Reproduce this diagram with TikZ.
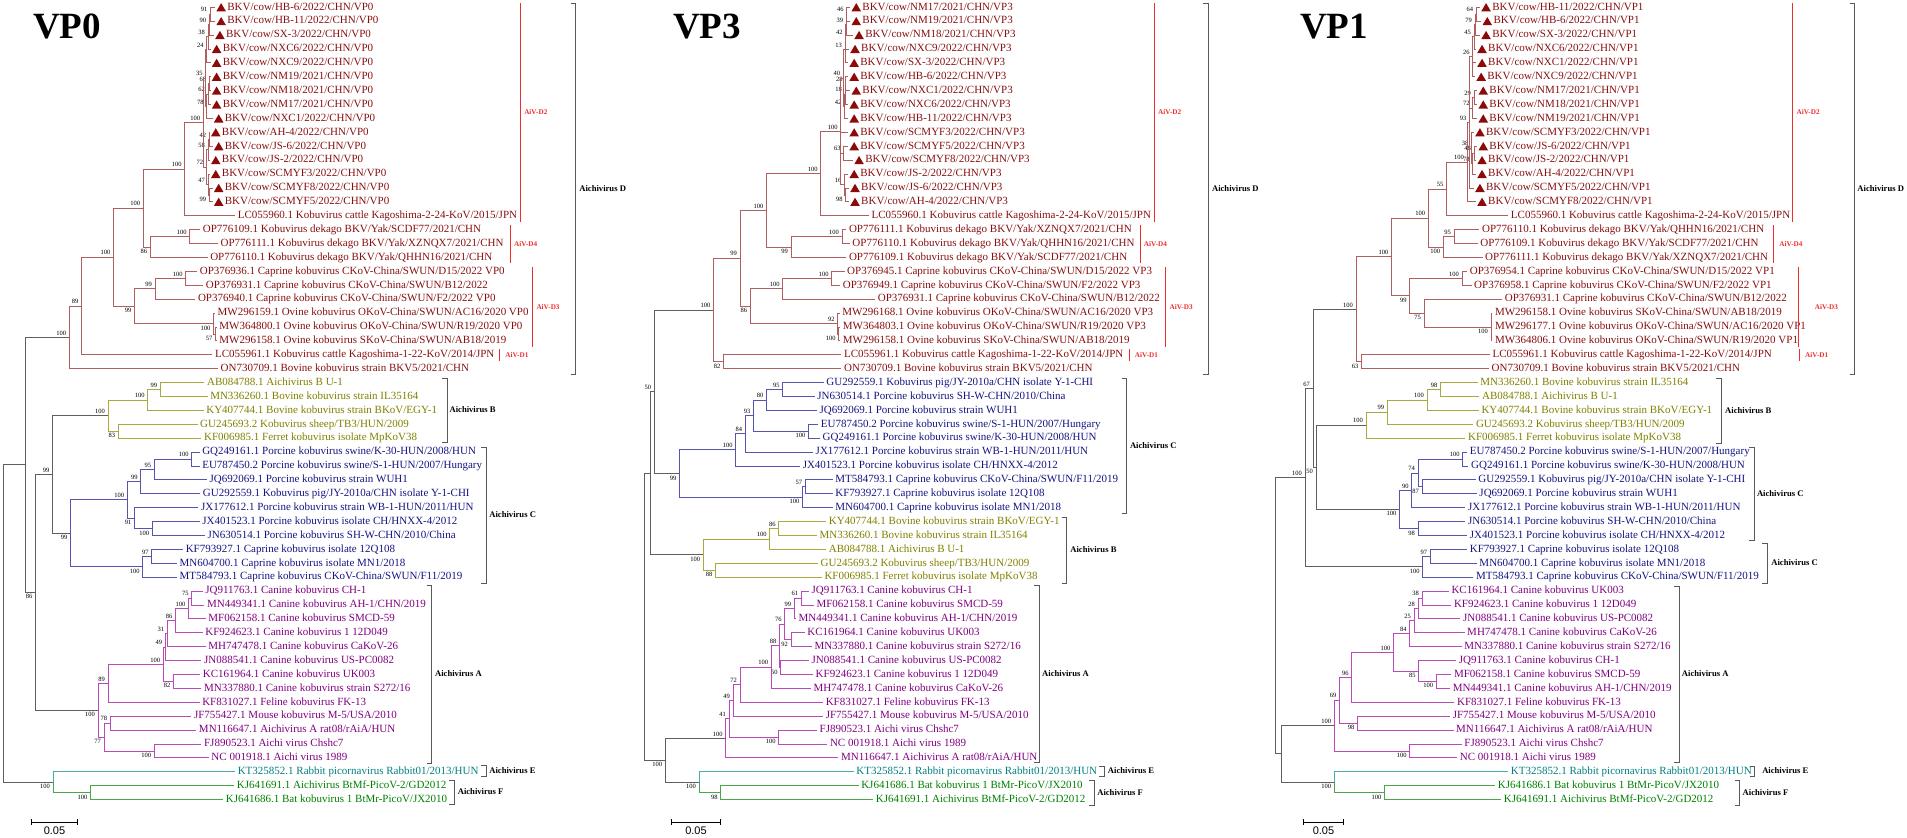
\documentclass[tikz,border=0pt]{standalone}
\usepackage{fontspec}
\setmainfont{Liberation Serif}
\newfontfamily\barfont{Liberation Sans}
\usetikzlibrary{calc}

\definecolor{dtxt}{RGB}{135,15,15}
\definecolor{dln}{RGB}{175,95,95}
\definecolor{btxt}{RGB}{128,128,0}
\definecolor{bln}{RGB}{170,170,60}
\definecolor{ctxt}{RGB}{20,20,130}
\definecolor{cln}{RGB}{85,85,175}
\definecolor{atxt}{RGB}{128,0,128}
\definecolor{aln}{RGB}{185,75,185}
\definecolor{etxt}{RGB}{0,128,128}
\definecolor{eln}{RGB}{70,170,170}
\definecolor{ftxt}{RGB}{0,128,0}
\definecolor{fln}{RGB}{75,165,75}
\definecolor{gln}{RGB}{95,95,95}
\definecolor{tri}{RGB}{140,10,10}
\definecolor{subred}{RGB}{240,45,45}

\newcommand\xu{1.2245}% horizontal unit, in pt

\tikzset{
  gbr/.style={line width=0.9pt, gln},
  dbr/.style={line width=0.9pt, dln},
  bbr/.style={line width=0.9pt, bln},
  cbr/.style={line width=0.9pt, cln},
  abr/.style={line width=0.9pt, aln},
  ebr/.style={line width=0.9pt, eln},
  fbr/.style={line width=0.9pt, fln},
  lf/.style={anchor=west, inner sep=0pt, font=\fontsize{11}{11}\selectfont, text height=7.8pt, text depth=2.4pt},
  dl/.style={text=dtxt}, bl/.style={text=btxt}, cl/.style={text=ctxt},
  al/.style={text=atxt}, el/.style={text=etxt}, fl/.style={text=ftxt},
  boot/.style={anchor=south east, inner sep=0pt, font=\fontsize{6.5}{6.5}\selectfont, xshift=-3pt, yshift=2pt},
  bootb/.style={anchor=north east, inner sep=0pt, font=\fontsize{6.5}{6.5}\selectfont, xshift=-3pt, yshift=-2pt},
  grp/.style={draw=black!65, line width=0.8pt},
  sub/.style={draw=subred, line width=0.9pt},
  grplab/.style={anchor=west, inner sep=0pt, font=\fontsize{8.6}{8.6}\bfseries\selectfont},
  sublab/.style={anchor=west, inner sep=0pt, text=subred, font=\fontsize{7.2}{7.2}\bfseries\selectfont},
  sbar/.style={draw=black, line width=0.9pt},
  sblab/.style={inner sep=0pt, font=\barfont\fontsize{11}{11}\selectfont},
  title/.style={anchor=north west, inner sep=0pt, font=\fontsize{37}{37}\bfseries\selectfont}
}

% leaf: panel, row, tip x, colour style, text
\newcommand\leaf[5]{%
  \coordinate (#1#2) at (#3,{7.3+13.9*#2});
  \node[lf,#4] (#1#2t) at ([xshift=2.5pt]#1#2) {#5};}
% cattle strains of this study, with the marker
\newcommand\bkv[4]{%
  \coordinate (#1#2) at (#3,{7.3+13.9*#2});
  \fill[tri] ([xshift=1.2pt,yshift=-4pt]#1#2) -- ++(9.6pt,0) -- ++(-4.8pt,8.2pt) -- cycle;
  \node[lf,dl] (#1#2t) at ([xshift=12pt]#1#2) {#4};}
% clade: [line style] name, x, children, bootstrap (_ = below)
\newcommand\clade[5][dbr]{%
  \gdef\cfirst{}%
  \foreach \ch in {#4}{\ifx\cfirst\empty\xdef\cfirst{\ch}\fi\xdef\clast{\ch}}%
  \path let \p1=(\cfirst), \p2=(\clast) in coordinate (#2) at ({#3*\xu pt},{0.5*(\y1+\y2)});
  \foreach \ch in {#4}{\draw[#1] (#2) |- (\ch);}
  \def\cname{#2}%
  \if\relax\detokenize{#5}\relax\else\bootnode#5\relax\fi}
\def\bootnode#1#2\relax{%
  \ifx_#1\node[bootb] at (\cname) {#2};\else\node[boot] at (\cname) {#1#2};\fi}
% brackets: [label gap] name, x, y1, y2, text
\newcommand\grpbr[6][3]{%
  \draw[grp] ({#3-4},#4) -- (#3,#4) -- (#3,#5) -- ({#3-4},#5);
  \node[grplab] (#2) at ({#3+#1},{(#4+#5)/2}) {#6};}
\newcommand\subgrp[6][3]{%
  \draw[sub] (#3,#4) -- (#3,#5);
  \node[sublab] (#2) at ({#3+#1},{(#4+#5)/2}) {#6};}
\newcommand\scalebar[3]{%
  \draw[sbar] (#2,822.3) -- (#3,822.3);
  \draw[sbar] (#2,819.3) -- (#2,825.3) (#3,819.3) -- (#3,825.3);
  \node[sblab] (#1) at ({(#2+#3)/2},831) {0.05};}

\begin{document}
\begin{tikzpicture}[x=\xu pt,y=-1pt]
\path[use as bounding box] (0pt,0pt) rectangle (1907pt,-838pt);

%% ---------------- VP0 ----------------
\begin{scope}
\node[title] (at) at (27,14) {VP0};
\bkv{a}{0}{175.7}{BKV/cow/HB-6/2022/CHN/VP0}
\bkv{a}{1}{175.7}{BKV/cow/HB-11/2022/CHN/VP0}
\bkv{a}{2}{174.7}{BKV/cow/SX-3/2022/CHN/VP0}
\bkv{a}{3}{172}{BKV/cow/NXC6/2022/CHN/VP0}
\bkv{a}{4}{172}{BKV/cow/NXC9/2022/CHN/VP0}
\bkv{a}{5}{172}{BKV/cow/NM19/2021/CHN/VP0}
\bkv{a}{6}{172}{BKV/cow/NM18/2021/CHN/VP0}
\bkv{a}{7}{172}{BKV/cow/NM17/2021/CHN/VP0}
\bkv{a}{8}{173.7}{BKV/cow/NXC1/2022/CHN/VP0}
\bkv{a}{9}{171.3}{BKV/cow/AH-4/2022/CHN/VP0}
\bkv{a}{10}{173.7}{BKV/cow/JS-6/2022/CHN/VP0}
\bkv{a}{11}{171.3}{BKV/cow/JS-2/2022/CHN/VP0}
\bkv{a}{12}{171.3}{BKV/cow/SCMYF3/2022/CHN/VP0}
\bkv{a}{13}{173.7}{BKV/cow/SCMYF8/2022/CHN/VP0}
\bkv{a}{14}{173.7}{BKV/cow/SCMYF5/2022/CHN/VP0}
\leaf{a}{15}{192}{dl}{LC055960.1 Kobuvirus cattle Kagoshima-2-24-KoV/2015/JPN}
\leaf{a}{16}{163.5}{dl}{OP776109.1 Kobuvirus dekago BKV/Yak/SCDF77/2021/CHN}
\leaf{a}{17}{178}{dl}{OP776111.1 Kobuvirus dekago BKV/Yak/XZNQX7/2021/CHN}
\leaf{a}{18}{169.5}{dl}{OP776110.1 Kobuvirus dekago BKV/Yak/QHHN16/2021/CHN}
\leaf{a}{19}{161}{dl}{OP376936.1 Caprine kobuvirus CKoV-China/SWUN/D15/2022 VP0}
\leaf{a}{20}{166}{dl}{OP376931.1 Caprine kobuvirus CKoV-China/SWUN/B12/2022}
\leaf{a}{21}{159.5}{dl}{OP376940.1 Caprine kobuvirus CKoV-China/SWUN/F2/2022 VP0}
\leaf{a}{22}{175.5}{dl}{MW296159.1 Ovine kobuvirus OKoV-China/SWUN/AC16/2020 VP0}
\leaf{a}{23}{177}{dl}{MW364800.1 Ovine kobuvirus OKoV-China/SWUN/R19/2020 VP0}
\leaf{a}{24}{177}{dl}{MW296158.1 Ovine kobuvirus SKoV-China/SWUN/AB18/2019}
\leaf{a}{25}{173.5}{dl}{LC055961.1 Kobuvirus cattle Kagoshima-1-22-KoV/2014/JPN}
\leaf{a}{26}{178}{dl}{ON730709.1 Bovine kobuvirus strain BKV5/2021/CHN}
\leaf{a}{27}{167}{bl}{AB084788.1 Aichivirus B U-1}
\leaf{a}{28}{169.5}{bl}{MN336260.1 Bovine kobuvirus strain IL35164}
\leaf{a}{29}{166.3}{bl}{KY407744.1 Bovine kobuvirus strain BKoV/EGY-1}
\leaf{a}{30}{161.3}{bl}{GU245693.2 Kobuvirus sheep/TB3/HUN/2009}
\leaf{a}{31}{164.5}{bl}{KF006985.1 Ferret kobuvirus isolate MpKoV38}
\leaf{a}{32}{163}{cl}{GQ249161.1 Porcine kobuvirus swine/K-30-HUN/2008/HUN}
\leaf{a}{33}{163}{cl}{EU787450.2 Porcine kobuvirus swine/S-1-HUN/2007/Hungary}
\leaf{a}{34}{169}{cl}{JQ692069.1 Porcine kobuvirus strain WUH1}
\leaf{a}{35}{163.5}{cl}{GU292559.1 Kobuvirus pig/JY-2010a/CHN isolate Y-1-CHI}
\leaf{a}{36}{162}{cl}{JX177612.1 Porcine kobuvirus strain WB-1-HUN/2011/HUN}
\leaf{a}{37}{163}{cl}{JX401523.1 Porcine kobuvirus isolate CH/HNXX-4/2012}
\leaf{a}{38}{167.3}{cl}{JN630514.1 Porcine kobuvirus SH-W-CHN/2010/China}
\leaf{a}{39}{149.5}{cl}{KF793927.1 Caprine kobuvirus isolate 12Q108}
\leaf{a}{40}{144.5}{cl}{MN604700.1 Caprine kobuvirus isolate MN1/2018}
\leaf{a}{41}{144.5}{cl}{MT584793.1 Caprine kobuvirus CKoV-China/SWUN/F11/2019}
\leaf{a}{42}{165.5}{al}{JQ911763.1 Canine kobuvirus CH-1}
\leaf{a}{43}{167}{al}{MN449341.1 Canine kobuvirus AH-1/CHN/2019}
\leaf{a}{44}{168}{al}{MF062158.1 Canine kobuvirus SMCD-59}
\leaf{a}{45}{165.5}{al}{KF924623.1 Canine kobuvirus 1 12D049}
\leaf{a}{46}{168}{al}{MH747478.1 Canine kobuvirus CaKoV-26}
\leaf{a}{47}{164.5}{al}{JN088541.1 Canine kobuvirus US-PC0082}
\leaf{a}{48}{163.5}{al}{KC161964.1 Canine kobuvirus UK003}
\leaf{a}{49}{164.5}{al}{MN337880.1 Canine kobuvirus strain S272/16}
\leaf{a}{50}{163}{al}{KF831027.1 Feline kobuvirus FK-13}
\leaf{a}{51}{156.3}{al}{JF755427.1 Mouse kobuvirus M-5/USA/2010}
\leaf{a}{52}{160.3}{al}{MN116647.1 Aichivirus A rat08/rAiA/HUN}
\leaf{a}{53}{164.5}{al}{FJ890523.1 Aichi virus Chshc7}
\leaf{a}{54}{170.5}{al}{NC 001918.1 Aichi virus 1989}
\leaf{a}{55}{192}{el}{KT325852.1 Rabbit picornavirus Rabbit01/2013/HUN}
\leaf{a}{56}{191.3}{fl}{KJ641691.1 Aichivirus BtMf-PicoV-2/GD2012}
\leaf{a}{57}{182.3}{fl}{KJ641686.1 Bat kobuvirus 1 BtMr-PicoV/JX2010}
% Aichivirus D
\clade{aK1}{172}{a0,a1}{91}
\clade{aK2}{171}{aK1,a2}{90}
\clade{aK3}{170}{aK2,a3}{38}
\clade{aK4}{169}{aK3,a4}{24}
\clade{aK5}{171}{a5,a6}{68}
\clade{aK6}{170}{aK5,a7}{62}
\clade{aK7}{169}{aK6,a8}{78}
\clade{aK8}{168}{aK4,aK7}{35}
\clade{aK9}{171}{a9,a10}{42}
\clade{aK10}{170}{aK9,a11}{58}
\clade{aK11}{171}{a13,a14}{_99}
\clade{aK12}{170}{a12,aK11}{47}
\clade{aK13}{168.5}{aK10,aK12}{72}
\clade{aBKV}{166}{aK8,aK13}{100}
\clade{aD2}{151}{aBKV,a15}{100}
\clade{aD4a}{155}{a16,a17}{100}
\clade{aD4}{122.7}{aD4a,a18}{_86}
\clade{aN1}{117}{aD2,aD4}{100}
\clade{aD3a}{151.7}{a19,a20}{100}
\clade{aD3b}{126.7}{aD3a,a21}{99}
\clade{aMWa}{176}{a23,a24}{_57}
\clade{aMW}{174.5}{a22,aMWa}{_100}
\clade{aD3}{110}{aD3b,aMW}{_99}
\clade{aN2}{92.7}{aN1,aD3}{100}
\clade{aN3}{66.7}{aN2,a25}{89}
\clade{aD}{56.7}{aN3,a26}{100}
% Aichivirus B
\clade[bbr]{aB1}{131}{a27,a28}{99}
\clade[bbr]{aB2}{120.7}{aB1,a29}{100}
\clade[bbr]{aB3}{96.7}{a30,a31}{_83}
\clade[bbr]{aB}{88.3}{aB2,aB3}{100}
% Aichivirus C
\clade[cbr]{aC1}{156.7}{a32,a33}{100}
\clade[cbr]{aC2}{126}{aC1,a34}{95}
\clade[cbr]{aC3}{115}{aC2,a35}{99}
\clade[cbr]{aC4}{124.3}{a37,a38}{_100}
\clade[cbr]{aC5}{110}{a36,aC4}{_91}
\clade[cbr]{aC6}{104}{aC3,aC5}{100}
\clade[cbr]{aC7}{124}{a39,a40}{97}
\clade[cbr]{aC8}{116.7}{aC7,a41}{_100}
\clade[cbr]{aC}{57.7}{aC6,aC8}{_99}
\clade[gbr]{aBC}{43}{aB,aC}{99}
% Aichivirus A
\clade[abr]{aA1}{156.7}{a42,a43}{75}
\clade[abr]{aA2}{154}{aA1,a44}{100}
\clade[abr]{aA3}{143.3}{aA2,a45}{86}
\clade[abr]{aA4}{136.7}{aA3,a46}{31}
\clade[abr]{aA5}{135}{aA4,a47}{49}
\clade[abr]{aA6}{141.7}{a48,a49}{_82}
\clade[abr]{aA7}{133.3}{aA5,aA6}{100}
\clade[abr]{aA8}{88.3}{aA7,a50}{89}
\clade[abr]{aA9}{90}{a51,a52}{78}
\clade[abr]{aA10}{126}{a53,a54}{_100}
\clade[abr]{aA11}{85}{aA9,aA10}{_77}
\clade[abr]{aA}{80}{aA8,aA11}{_100}
\clade[gbr]{aX}{29}{aBC,aA}{_86}
\clade[gbr]{aN4}{21}{aD,aX}{}
% Aichivirus E and F
\clade[fbr]{aF}{74}{a56,a57}{_100}
\clade[ebr]{aEF}{43.3}{a55,aF}{_100}
\draw[fbr] (aEF) |- (aF);
\clade[gbr]{aR}{3}{aN4,aEF}{}
\subgrp{aSD2}{425}{3}{222}{AiV-D2}
\subgrp{aSD4}{416.7}{225}{263}{AiV-D4}
\subgrp{aSD3}{435}{267}{347}{AiV-D3}
\subgrp[4.5]{aSD1}{408}{349}{361}{AiV-D1}
\grpbr{aGD}{470}{3}{374}{Aichivirus D}
\grpbr[2]{aGB}{365}{378}{442}{Aichivirus B}
\grpbr[2.5]{aGC}{397}{447}{583}{Aichivirus C}
\grpbr[2.5]{aGA}{352.7}{585}{763}{Aichivirus A}
\grpbr[2.5]{aGE}{397}{765}{776}{Aichivirus E}
\grpbr{aGF}{370.7}{780}{804}{Aichivirus F}
\scalebar{aS}{25.7}{63.3}
\end{scope}

%% ---------------- VP3 ----------------
\begin{scope}[xshift=640pt]
\node[title] (bt) at (27,14) {VP3};
\bkv{b}{0}{171.7}{BKV/cow/NM17/2021/CHN/VP3}
\bkv{b}{1}{171.7}{BKV/cow/NM19/2021/CHN/VP3}
\bkv{b}{2}{174}{BKV/cow/NM18/2021/CHN/VP3}
\bkv{b}{3}{170.7}{BKV/cow/NXC9/2022/CHN/VP3}
\bkv{b}{4}{170}{BKV/cow/SX-3/2022/CHN/VP3}
\bkv{b}{5}{170}{BKV/cow/HB-6/2022/CHN/VP3}
\bkv{b}{6}{171.7}{BKV/cow/NXC1/2022/CHN/VP3}
\bkv{b}{7}{170}{BKV/cow/NXC6/2022/CHN/VP3}
\bkv{b}{8}{170}{BKV/cow/HB-11/2022/CHN/VP3}
\bkv{b}{9}{170}{BKV/cow/SCMYF3/2022/CHN/VP3}
\bkv{b}{10}{170}{BKV/cow/SCMYF5/2022/CHN/VP3}
\bkv{b}{11}{174}{BKV/cow/SCMYF8/2022/CHN/VP3}
\bkv{b}{12}{170}{BKV/cow/JS-2/2022/CHN/VP3}
\bkv{b}{13}{170.7}{BKV/cow/JS-6/2022/CHN/VP3}
\bkv{b}{14}{170.7}{BKV/cow/AH-4/2022/CHN/VP3}
\leaf{b}{15}{187}{dl}{LC055960.1 Kobuvirus cattle Kagoshima-2-24-KoV/2015/JPN}
\leaf{b}{16}{168.5}{dl}{OP776111.1 Kobuvirus dekago BKV/Yak/XZNQX7/2021/CHN}
\leaf{b}{17}{171.3}{dl}{OP776110.1 Kobuvirus dekago BKV/Yak/QHHN16/2021/CHN}
\leaf{b}{18}{168.5}{dl}{OP776109.1 Kobuvirus dekago BKV/Yak/SCDF77/2021/CHN}
\leaf{b}{19}{167}{dl}{OP376945.1 Caprine kobuvirus CKoV-China/SWUN/D15/2022 VP3}
\leaf{b}{20}{163.5}{dl}{OP376949.1 Caprine kobuvirus CKoV-China/SWUN/F2/2022 VP3}
\leaf{b}{21}{192}{dl}{OP376931.1 Caprine kobuvirus CKoV-China/SWUN/B12/2022}
\leaf{b}{22}{163}{dl}{MW296168.1 Ovine kobuvirus OKoV-China/SWUN/AC16/2020 VP3}
\leaf{b}{23}{163.5}{dl}{MW364803.1 Ovine kobuvirus OKoV-China/SWUN/R19/2020 VP3}
\leaf{b}{24}{163.5}{dl}{MW296158.1 Ovine kobuvirus SKoV-China/SWUN/AB18/2019}
\leaf{b}{25}{164.5}{dl}{LC055961.1 Kobuvirus cattle Kagoshima-1-22-KoV/2014/JPN}
\leaf{b}{26}{164.5}{dl}{ON730709.1 Bovine kobuvirus strain BKV5/2021/CHN}
\leaf{b}{27}{150}{cl}{GU292559.1 Kobuvirus pig/JY-2010a/CHN isolate Y-1-CHI}
\leaf{b}{28}{142.7}{cl}{JN630514.1 Porcine kobuvirus SH-W-CHN/2010/China}
\leaf{b}{29}{144.5}{cl}{JQ692069.1 Porcine kobuvirus strain WUH1}
\leaf{b}{30}{145.5}{cl}{EU787450.2 Porcine kobuvirus swine/S-1-HUN/2007/Hungary}
\leaf{b}{31}{147}{cl}{GQ249161.1 Porcine kobuvirus swine/K-30-HUN/2008/HUN}
\leaf{b}{32}{141.3}{cl}{JX177612.1 Porcine kobuvirus strain WB-1-HUN/2011/HUN}
\leaf{b}{33}{130.7}{cl}{JX401523.1 Porcine kobuvirus isolate CH/HNXX-4/2012}
\leaf{b}{34}{157.3}{cl}{MT584793.1 Caprine kobuvirus CKoV-China/SWUN/F11/2019}
\leaf{b}{35}{157.3}{cl}{KF793927.1 Caprine kobuvirus isolate 12Q108}
\leaf{b}{36}{157.3}{cl}{MN604700.1 Caprine kobuvirus isolate MN1/2018}
\leaf{b}{37}{152}{bl}{KY407744.1 Bovine kobuvirus strain BKoV/EGY-1}
\leaf{b}{38}{144.5}{bl}{MN336260.1 Bovine kobuvirus strain IL35164}
\leaf{b}{39}{152}{bl}{AB084788.1 Aichivirus B U-1}
\leaf{b}{40}{145.3}{bl}{GU245693.2 Kobuvirus sheep/TB3/HUN/2009}
\leaf{b}{41}{148.5}{bl}{KF006985.1 Ferret kobuvirus isolate MpKoV38}
\leaf{b}{42}{138}{al}{JQ911763.1 Canine kobuvirus CH-1}
\leaf{b}{43}{142}{al}{MF062158.1 Canine kobuvirus SMCD-59}
\leaf{b}{44}{127.3}{al}{MN449341.1 Canine kobuvirus AH-1/CHN/2019}
\leaf{b}{45}{134.5}{al}{KC161964.1 Canine kobuvirus UK003}
\leaf{b}{46}{140.3}{al}{MN337880.1 Canine kobuvirus strain S272/16}
\leaf{b}{47}{138}{al}{JN088541.1 Canine kobuvirus US-PC0082}
\leaf{b}{48}{141.3}{al}{KF924623.1 Canine kobuvirus 1 12D049}
\leaf{b}{49}{139.5}{al}{MH747478.1 Canine kobuvirus CaKoV-26}
\leaf{b}{50}{149.5}{al}{KF831027.1 Feline kobuvirus FK-13}
\leaf{b}{51}{149.5}{al}{JF755427.1 Mouse kobuvirus M-5/USA/2010}
\leaf{b}{52}{144.5}{al}{FJ890523.1 Aichi virus Chshc7}
\leaf{b}{53}{153}{al}{NC 001918.1 Aichi virus 1989}
\leaf{b}{54}{162}{al}{MN116647.1 Aichivirus A rat08/rAiA/HUN}
\leaf{b}{55}{174.5}{el}{KT325852.1 Rabbit picornavirus Rabbit01/2013/HUN}
\leaf{b}{56}{178.5}{fl}{KJ641686.1 Bat kobuvirus 1 BtMr-PicoV/JX2010}
\leaf{b}{57}{190.5}{fl}{KJ641691.1 Aichivirus BtMf-PicoV-2/GD2012}
% Aichivirus D
\clade{bK1}{169}{b0,b1}{46}
\clade{bK2}{168.5}{bK1,b2}{39}
\clade{bK3}{168}{bK2,b3}{42}
\clade{bK4}{167.5}{bK3,b4}{13}
\clade{bK5}{168}{b5,b6}{28}
\clade{bK6}{167.5}{bK5,b7}{18}
\clade{bK7}{167}{bK6,b8}{42}
\clade{bK8}{166}{bK4,bK7}{40}
\clade{bK9}{166.5}{b10,b11}{63}
\clade{bK10}{168}{b13,b14}{_98}
\clade{bK11}{167}{b12,bK10}{16}
\clade{bBKV}{164}{bK8,b9,bK9,bK11}{100}
\clade{bD2}{147.7}{bBKV,b15}{100}
\clade{bD4a}{165}{b16,b17}{100}
\clade{bD4}{123.3}{bD4a,b18}{_99}
\clade{bN1}{103.3}{bD2,bD4}{100}
\clade{bD3a}{156.7}{b19,b20}{100}
\clade{bD3b}{116.7}{bD3a,b21}{100}
\clade{bMWa}{162.3}{b23,b24}{_100}
\clade{bMW}{161.5}{b22,bMWa}{92}
\clade{bD3}{90}{bD3b,bMW}{_86}
\clade{bN2}{81.7}{bN1,bD3}{99}
\clade{bD1}{68.3}{b25,b26}{_82}
\clade{bD}{60}{bN2,bD1}{100}
% Aichivirus C
\clade[cbr]{bC1}{116.7}{b27,b28}{95}
\clade[cbr]{bC2}{103.3}{bC1,b29}{80}
\clade[cbr]{bC3}{137.7}{b30,b31}{_100}
\clade[cbr]{bC4}{92.7}{bC2,bC3}{93}
\clade[cbr]{bC5}{86}{bC4,b32}{84}
\clade[cbr]{bC6}{78.3}{bC5,b33}{100}
\clade[cbr]{bC7}{135}{b34,b35}{57}
\clade[cbr]{bC8}{132.7}{bC7,b36}{_100}
\clade[cbr]{bC}{32.3}{bC6,bC8}{_99}
\clade[gbr]{bN3}{11.7}{bD,bC}{50}
% Aichivirus B
\clade[bbr]{bB1}{113.3}{b37,b38}{86}
\clade[bbr]{bB2}{106}{bB1,b39}{100}
\clade[bbr]{bB3}{61.7}{b40,b41}{_88}
\clade[bbr]{bB}{51.7}{bB2,bB3}{_100}
\clade[gbr]{bX}{8.3}{bN3,bB}{}
% Aichivirus A
\clade[abr]{bA1}{131.7}{b42,b43}{61}
\clade[abr]{bA2}{126}{bA1,b44}{99}
\clade[abr]{bA3}{123.3}{b45,b46}{_92}
\clade[abr]{bA4}{118.3}{bA2,bA3}{76}
\clade[abr]{bA5}{115}{b47,b48}{_50}
\clade[abr]{bA6}{114}{bA4,bA5}{88}
\clade[abr]{bA7}{107.3}{bA6,b49}{100}
\clade[abr]{bA8}{81.7}{bA7,b50}{72}
\clade[abr]{bA9}{76}{bA8,b51}{49}
\clade[abr]{bA10}{113.3}{b52,b53}{_100}
\clade[abr]{bA11}{72.7}{bA9,bA10}{41}
\clade[abr]{bA}{70}{bA11,b54}{100}
% Aichivirus E and F
\clade[fbr]{bF}{66}{b56,b57}{_98}
\clade[ebr]{bEF}{48.3}{b55,bF}{_100}
\draw[fbr] (bEF) |- (bF);
\clade[gbr]{bAEF}{20.7}{bA,bEF}{_100}
\clade[gbr]{bR}{3.3}{bX,bAEF}{}
\subgrp{bSD2}{420}{3}{222}{AiV-D2}
\subgrp{bSD4}{408.3}{225}{263}{AiV-D4}
\subgrp{bSD3}{429.3}{267}{347}{AiV-D3}
\subgrp[4]{bSD1}{400}{349}{361}{AiV-D1}
\grpbr{bGD}{464}{3}{374}{Aichivirus D}
\grpbr[2.7]{bGC}{397.3}{378}{513}{Aichivirus C}
\grpbr{bGB}{348.3}{517}{583}{Aichivirus B}
\grpbr[2.3]{bGA}{326}{585}{762}{Aichivirus A}
\grpbr{bGE}{379}{766}{776}{Aichivirus E}
\grpbr[2.6]{bGF}{370.7}{780}{805}{Aichivirus F}
\scalebar{bS}{25.7}{65.7}
\end{scope}

%% ---------------- VP1 ----------------
\begin{scope}[xshift=1267pt]
\node[title] (ct) at (27,14) {VP1};
\bkv{c}{0}{174}{BKV/cow/HB-11/2022/CHN/VP1}
\bkv{c}{1}{175}{BKV/cow/HB-6/2022/CHN/VP1}
\bkv{c}{2}{174}{BKV/cow/SX-3/2022/CHN/VP1}
\bkv{c}{3}{170.7}{BKV/cow/NXC6/2022/CHN/VP1}
\bkv{c}{4}{170.7}{BKV/cow/NXC1/2022/CHN/VP1}
\bkv{c}{5}{170}{BKV/cow/NXC9/2022/CHN/VP1}
\bkv{c}{6}{171.7}{BKV/cow/NM17/2021/CHN/VP1}
\bkv{c}{7}{171.7}{BKV/cow/NM18/2021/CHN/VP1}
\bkv{c}{8}{171.7}{BKV/cow/NM19/2021/CHN/VP1}
\bkv{c}{9}{169}{BKV/cow/SCMYF3/2022/CHN/VP1}
\bkv{c}{10}{171.7}{BKV/cow/JS-6/2022/CHN/VP1}
\bkv{c}{11}{170.7}{BKV/cow/JS-2/2022/CHN/VP1}
\bkv{c}{12}{170.7}{BKV/cow/AH-4/2022/CHN/VP1}
\bkv{c}{13}{169}{BKV/cow/SCMYF5/2022/CHN/VP1}
\bkv{c}{14}{170.7}{BKV/cow/SCMYF8/2022/CHN/VP1}
\leaf{c}{15}{197}{dl}{LC055960.1 Kobuvirus cattle Kagoshima-2-24-KoV/2015/JPN}
\leaf{c}{16}{173.5}{dl}{OP776110.1 Kobuvirus dekago BKV/Yak/QHHN16/2021/CHN}
\leaf{c}{17}{172}{dl}{OP776109.1 Kobuvirus dekago BKV/Yak/SCDF77/2021/CHN}
\leaf{c}{18}{176}{dl}{OP776111.1 Kobuvirus dekago BKV/Yak/XZNQX7/2021/CHN}
\leaf{c}{19}{163.5}{dl}{OP376954.1 Caprine kobuvirus CKoV-China/SWUN/D15/2022 VP1}
\leaf{c}{20}{167}{dl}{OP376958.1 Caprine kobuvirus CKoV-China/SWUN/F2/2022 VP1}
\leaf{c}{21}{192}{dl}{OP376931.1 Caprine kobuvirus CKoV-China/SWUN/B12/2022}
\leaf{c}{22}{184}{dl}{MW296158.1 Ovine kobuvirus SKoV-China/SWUN/AB18/2019}
\leaf{c}{23}{184}{dl}{MW296177.1 Ovine kobuvirus OKoV-China/SWUN/AC16/2020 VP1}
\leaf{c}{24}{184}{dl}{MW364806.1 Ovine kobuvirus OKoV-China/SWUN/R19/2020 VP1}
\leaf{c}{25}{182}{dl}{LC055961.1 Kobuvirus cattle Kagoshima-1-22-KoV/2014/JPN}
\leaf{c}{26}{181.3}{dl}{ON730709.1 Bovine kobuvirus strain BKV5/2021/CHN}
\leaf{c}{27}{172}{bl}{MN336260.1 Bovine kobuvirus strain IL35164}
\leaf{c}{28}{173.5}{bl}{AB084788.1 Aichivirus B U-1}
\leaf{c}{29}{173}{bl}{KY407744.1 Bovine kobuvirus strain BKoV/EGY-1}
\leaf{c}{30}{168.5}{bl}{GU245693.2 Kobuvirus sheep/TB3/HUN/2009}
\leaf{c}{31}{162}{bl}{KF006985.1 Ferret kobuvirus isolate MpKoV38}
\leaf{c}{32}{163.5}{cl}{EU787450.2 Porcine kobuvirus swine/S-1-HUN/2007/Hungary}
\leaf{c}{33}{164.5}{cl}{GQ249161.1 Porcine kobuvirus swine/K-30-HUN/2008/HUN}
\leaf{c}{34}{170.5}{cl}{GU292559.1 Kobuvirus pig/JY-2010a/CHN isolate Y-1-CHI}
\leaf{c}{35}{171.3}{cl}{JQ692069.1 Porcine kobuvirus strain WUH1}
\leaf{c}{36}{162}{cl}{JX177612.1 Porcine kobuvirus strain WB-1-HUN/2011/HUN}
\leaf{c}{37}{162}{cl}{JN630514.1 Porcine kobuvirus SH-W-CHN/2010/China}
\leaf{c}{38}{163.5}{cl}{JX401523.1 Porcine kobuvirus isolate CH/HNXX-4/2012}
\leaf{c}{39}{163.5}{cl}{KF793927.1 Caprine kobuvirus isolate 12Q108}
\leaf{c}{40}{171.3}{cl}{MN604700.1 Caprine kobuvirus isolate MN1/2018}
\leaf{c}{41}{168.5}{cl}{MT584793.1 Caprine kobuvirus CKoV-China/SWUN/F11/2019}
\leaf{c}{42}{148.5}{al}{KC161964.1 Canine kobuvirus UK003}
\leaf{c}{43}{150.5}{al}{KF924623.1 Canine kobuvirus 1 12D049}
\leaf{c}{44}{158}{al}{JN088541.1 Canine kobuvirus US-PC0082}
\leaf{c}{45}{161.3}{al}{MH747478.1 Canine kobuvirus CaKoV-26}
\leaf{c}{46}{159}{al}{MN337880.1 Canine kobuvirus strain S272/16}
\leaf{c}{47}{154.5}{al}{JQ911763.1 Canine kobuvirus CH-1}
\leaf{c}{48}{150.5}{al}{MF062158.1 Canine kobuvirus SMCD-59}
\leaf{c}{49}{149.5}{al}{MN449341.1 Canine kobuvirus AH-1/CHN/2019}
\leaf{c}{50}{153}{al}{KF831027.1 Feline kobuvirus FK-13}
\leaf{c}{51}{149.5}{al}{JF755427.1 Mouse kobuvirus M-5/USA/2010}
\leaf{c}{52}{152.3}{al}{MN116647.1 Aichivirus A rat08/rAiA/HUN}
\leaf{c}{53}{159}{al}{FJ890523.1 Aichi virus Chshc7}
\leaf{c}{54}{155.3}{al}{NC 001918.1 Aichi virus 1989}
\leaf{c}{55}{197}{el}{KT325852.1 Rabbit picornavirus Rabbit01/2013/HUN}
\leaf{c}{56}{186.3}{fl}{KJ641686.1 Bat kobuvirus 1 BtMr-PicoV/JX2010}
\leaf{c}{57}{191.3}{fl}{KJ641691.1 Aichivirus BtMf-PicoV-2/GD2012}
% Aichivirus D
\clade{cK1}{171}{c0,c1}{64}
\clade{cK2}{170}{cK1,c2}{79}
\clade{cK3}{169}{cK2,c3}{45}
\clade{cK4}{168}{cK3,c4,c5}{26}
\clade{cK5}{169}{c6,c7}{29}
\clade{cK6}{168}{cK5,c8}{72}
\clade{cK7}{169}{c10,c11}{48}
\clade{cK8}{168}{cK7,c12}{78}
\clade{cK9}{167}{c9,cK8}{38}
\clade{cK10}{165.5}{cK4,cK6,cK9,c13}{93}
\clade{cBKV}{163.3}{cK10,c14}{100}
\clade{cD2}{146.7}{cBKV,c15}{55}
\clade{cD4a}{152.7}{c16,c17}{95}
\clade{cD4}{144}{cD4a,c18}{_100}
\clade{cN1}{131.7}{cD2,cD4}{100}
\clade{cD3a}{159.3}{c19,c20}{100}
\clade{cMW}{183}{c22,c23,c24}{_100}
\clade{cD3b}{128.3}{c21,cMW}{_75}
\clade{cD3}{116.7}{cD3a,cD3b}{_99}
\clade{cN2}{101.7}{cN1,cD3}{100}
\clade{cD1}{77.3}{c25,c26}{_63}
\clade{cD}{72.7}{cN2,cD1}{100}
% Aichivirus B
\clade[bbr]{cB1}{141.7}{c27,c28}{98}
\clade[bbr]{cB2}{130.7}{cB1,c29}{100}
\clade[bbr]{cB3}{98.3}{cB2,c30}{99}
\clade[bbr]{cB}{81}{cB3,c31}{100}
% Aichivirus C, porcine
\clade[cbr]{cC1}{160}{c32,c33}{100}
\clade[cbr]{cC2}{126.7}{c34,c35}{_87}
\clade[cbr]{cC3}{123.3}{cC1,cC2}{74}
\clade[cbr]{cC4}{118.3}{cC3,c36}{90}
\clade[cbr]{cC5}{123.3}{c37,c38}{_98}
\clade[cbr]{cCa}{108.3}{cC4,cC5}{_100}
\clade[gbr]{cQ}{40}{cB,cCa}{_50}
\clade[gbr]{cP}{37.7}{cD,cQ}{67}
% Aichivirus C, caprine
\clade[cbr]{cC6}{133.3}{c39,c40}{97}
\clade[cbr]{cCb}{127.3}{cC6,c41}{_100}
\clade[gbr]{cS}{31}{cP,cCb}{100}
% Aichivirus A
\clade[abr]{cA1}{126.7}{c42,c43}{38}
\clade[abr]{cA2}{123.3}{cA1,c44}{28}
\clade[abr]{cA3}{120}{cA2,c45}{25}
\clade[abr]{cA4}{116.7}{cA3,c46}{84}
\clade[abr]{cA5}{138.3}{c48,c49}{_100}
\clade[abr]{cA6}{124}{c47,cA5}{_85}
\clade[abr]{cA7}{103.3}{cA4,cA6}{100}
\clade[abr]{cA8}{69.3}{cA7,c50}{96}
\clade[abr]{cA9}{74}{c51,c52}{_98}
\clade[abr]{cA10}{59.3}{cA8,cA9}{69}
\clade[abr]{cA11}{116.7}{c53,c54}{_100}
\clade[abr]{cA}{55}{cA10,cA11}{100}
% Aichivirus E and F
\clade[fbr]{cF}{96}{c56,c57}{_100}
\clade[ebr]{cEF}{55}{c55,cF}{_100}
\draw[fbr] (cEF) |- (cF);
\clade[gbr]{cU}{11.7}{cA,cEF}{}
\clade[gbr]{cR}{6.7}{cS,cU}{}
\subgrp{cSD2}{429.3}{3}{222}{AiV-D2}
\subgrp[5]{cSD4}{413.3}{225}{263}{AiV-D4}
\subgrp[13]{cSD3}{434.3}{267}{347}{AiV-D3}
\subgrp[4.3]{cSD1}{435}{349}{361}{AiV-D1}
\grpbr[2]{cGD}{480}{3}{374}{Aichivirus D}
\grpbr{cGB}{371}{378}{443}{Aichivirus B}
\grpbr[2.3]{cGC}{397.7}{447}{540}{Aichivirus C}
\grpbr[3.4]{cGC2}{408.3}{543}{583}{Aichivirus C}
\grpbr[2]{cGA}{336.7}{586}{762}{Aichivirus A}
\grpbr[6]{cGE}{398.3}{766}{776}{Aichivirus E}
\grpbr[2.3]{cGF}{386}{780}{805}{Aichivirus F}
\scalebar{cS}{30}{62.3}
\end{scope}
\end{tikzpicture}
\end{document}
